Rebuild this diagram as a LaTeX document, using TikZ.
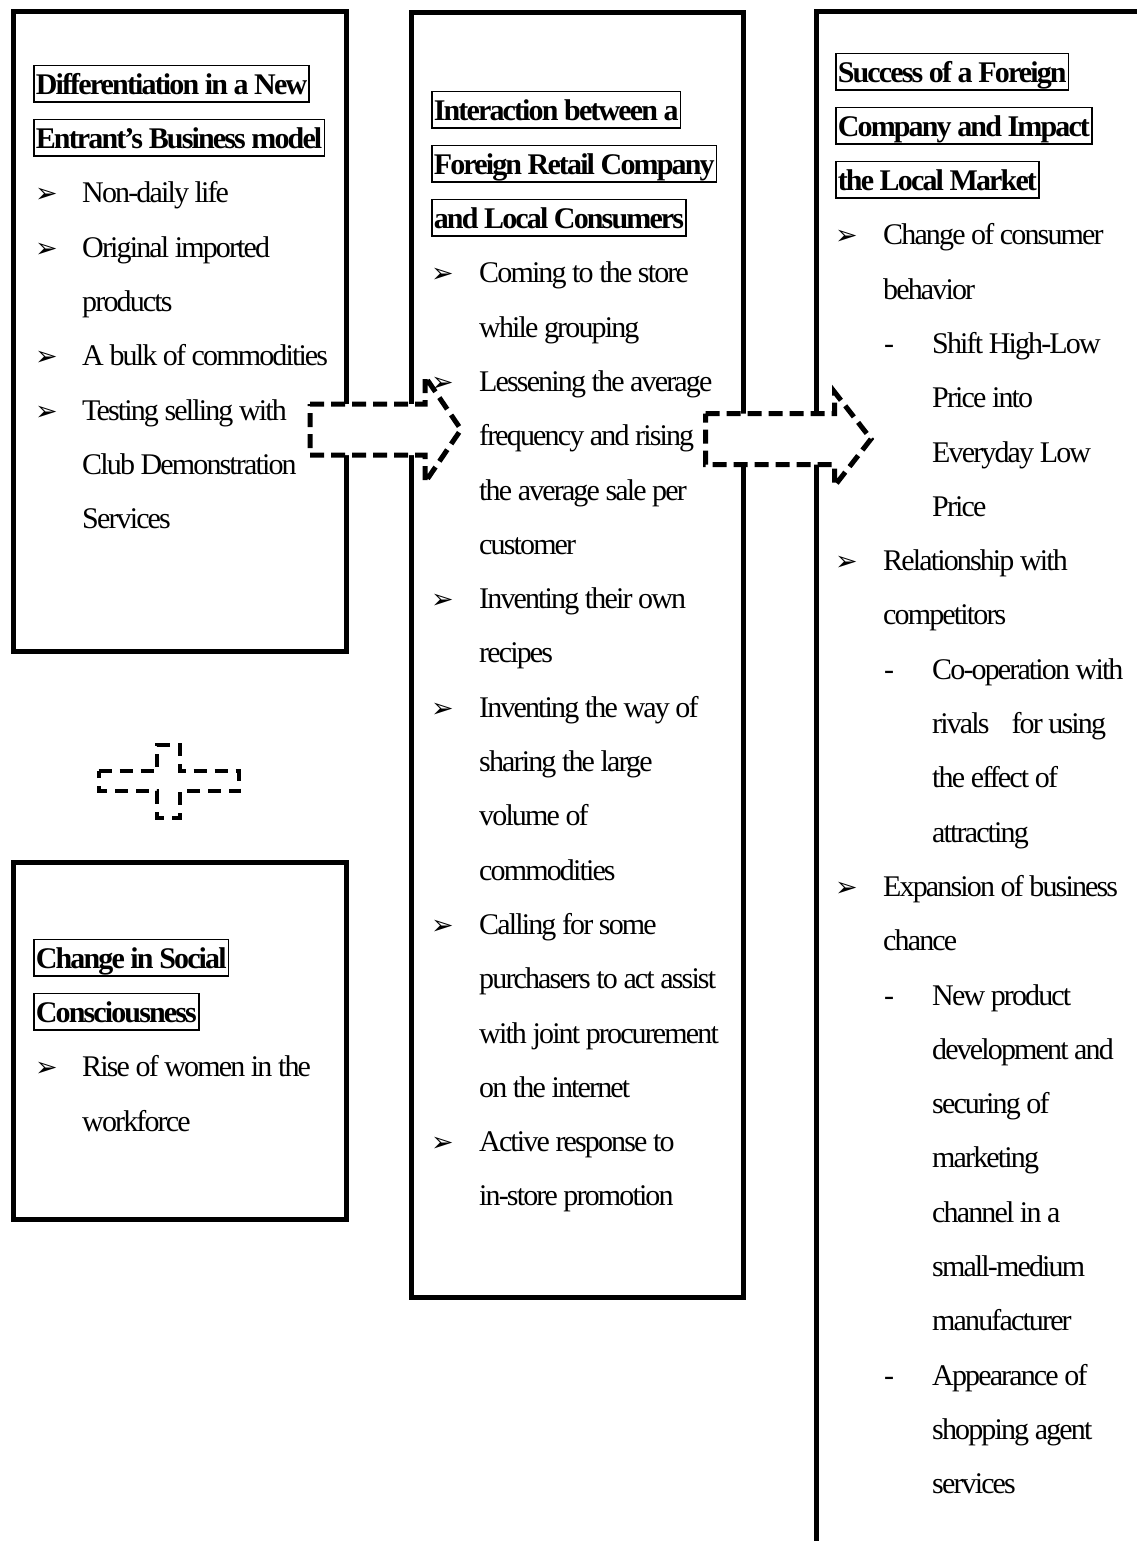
\documentclass[tikz,border=0pt]{standalone}
\usepackage{fontspec}
\setmainfont{Liberation Serif}[LetterSpace=-6.2]
\newfontfamily\bulfont{DejaVu Sans}
\newcommand\diagfont{\fontsize{30pt}{54pt}\selectfont}
\newcommand\arrbul{{\bulfont\fontsize{27pt}{27pt}\selectfont ➢}}

\tikzset{
  bigbox/.style={draw, line width=5pt, anchor=north west, inner sep=0pt},
  headline/.style={draw, line width=1.6pt, anchor=base west, inner xsep=2pt,
    inner ysep=3.5pt, text height=25.5pt, text depth=4pt, font=\diagfont\bfseries},
  bodyline/.style={anchor=base west, inner sep=0pt, font=\diagfont},
  blockarrow/.style={draw, fill=white, line width=5pt, line join=miter,
    dash pattern=on 14pt off 7pt},
}

\begin{document}
\begin{tikzpicture}[x=1pt, y=-1pt]
\useasboundingbox (0,0) rectangle (1137,1541);
\clip (0,0) rectangle (1137,1541);

% the four boxes
\node[bigbox, minimum width=333.5pt, minimum height=639.5pt] (boxA) at (10.5,9.5) {};
\node[bigbox, minimum width=333.5pt, minimum height=357pt] (boxD) at (10.5,860) {};
\node[bigbox, minimum width=332pt, minimum height=1285pt] (boxB) at (409,10) {};
\node[bigbox, minimum width=360pt, minimum height=1580pt] (boxC) at (814,9.5) {};

% headings
\node[headline] (hA1) at (33,94.5) {Differentiation in a New\ };
\node[headline] (hA2) at (33,148.5) {Entrant’s Business model};
\node[headline] (hB1) at (431,120.5) {Interaction between a\ };
\node[headline] (hB2) at (431,174.5) {Foreign Retail Company\ };
\node[headline] (hB3) at (431,228.5) {and Local Consumers};
\node[headline] (hC1) at (835,82.5) {Success of a Foreign\ };
\node[headline] (hC2) at (835,136.5) {Company and Impact\ };
\node[headline] (hC3) at (835,190.5) {the Local Market};
\node[headline] (hD1) at (33,968.5) {Change in Social\ };
\node[headline] (hD2) at (33,1022.5) {Consciousness};

% left upper box
\foreach \mk/\txt [count=\i] in {b/Non-daily life, b/Original imported, c/products,
  b/A bulk of commodities, b/Testing selling with, c/Club Demonstration, c/Services}{
  \pgfmathsetmacro\yy{202.8+(\i-1)*54.3}
  \node[bodyline] (a\i) at (82,\yy) {\txt};
  \if b\mk \node[bodyline] (ab\i) at (35,\yy) {\arrbul}; \fi
}

% left lower box
\foreach \mk/\txt [count=\i] in {b/Rise of women in the, c/workforce}{
  \pgfmathsetmacro\yy{1076.8+(\i-1)*54.3}
  \node[bodyline] (d\i) at (82,\yy) {\txt};
  \if b\mk \node[bodyline] (db\i) at (35,\yy) {\arrbul}; \fi
}

% middle box
\foreach \mk/\txt [count=\i] in {b/Coming to the store, c/while grouping,
  b/Lessening the average, c/frequency and rising, c/the average sale per, c/customer,
  b/Inventing their own, c/recipes, b/Inventing the way of, c/sharing the large,
  c/volume of, c/commodities, b/Calling for some, c/purchasers to act assist,
  c/with joint procurement, c/on the internet, b/Active response to, c/in-store promotion}{
  \pgfmathsetmacro\yy{282.8+(\i-1)*54.3}
  \node[bodyline] (b\i) at (479,\yy) {\txt};
  \if b\mk \node[bodyline] (bb\i) at (431,\yy) {\arrbul}; \fi
}

% right box
\foreach \mk/\txt [count=\i] in {b/Change of consumer, c/behavior, d/Shift High-Low,
  s/Price into, s/Everyday Low, s/Price, b/Relationship with, c/competitors,
  d/Co-operation with, s/rivals\hspace{22pt}for using, s/the effect of, s/attracting,
  b/Expansion of business, c/chance, d/New product, s/development and, s/securing of,
  s/marketing, s/channel in a, s/small-medium, s/manufacturer, d/Appearance of,
  s/shopping agent, s/services}{
  \pgfmathsetmacro\yy{244.8+(\i-1)*54.3}
  \def\tx{883}
  \if d\mk \def\tx{932}\fi
  \if s\mk \def\tx{932}\fi
  \node[bodyline] (c\i) at (\tx,\yy) {\txt};
  \if b\mk \node[bodyline] (cb\i) at (835,\yy) {\arrbul}; \fi
  \if d\mk \node[bodyline] (cd\i) at (884,\yy) {-}; \fi
}

% block arrows
\draw[blockarrow] (310,404) -- (425,404) -- (425,376.5) -- (461,429.5)
  -- (425,482.5) -- (425,455) -- (310,455) -- cycle;
\draw[blockarrow] (705.5,413.5) -- (834.5,413.5) -- (834.5,392) -- (871,439)
  -- (834.5,486) -- (834.5,464.5) -- (705.5,464.5) -- cycle;

% plus sign
\draw[line width=4pt, dash pattern=on 13pt off 8pt, line join=miter]
  (98.5,771) -- (157,771) -- (157,745) -- (179.5,745) -- (179.5,771) -- (239,771)
  -- (239,791) -- (179.5,791) -- (179.5,818) -- (157,818) -- (157,791) -- (98.5,791) -- cycle;
\end{tikzpicture}
\end{document}
